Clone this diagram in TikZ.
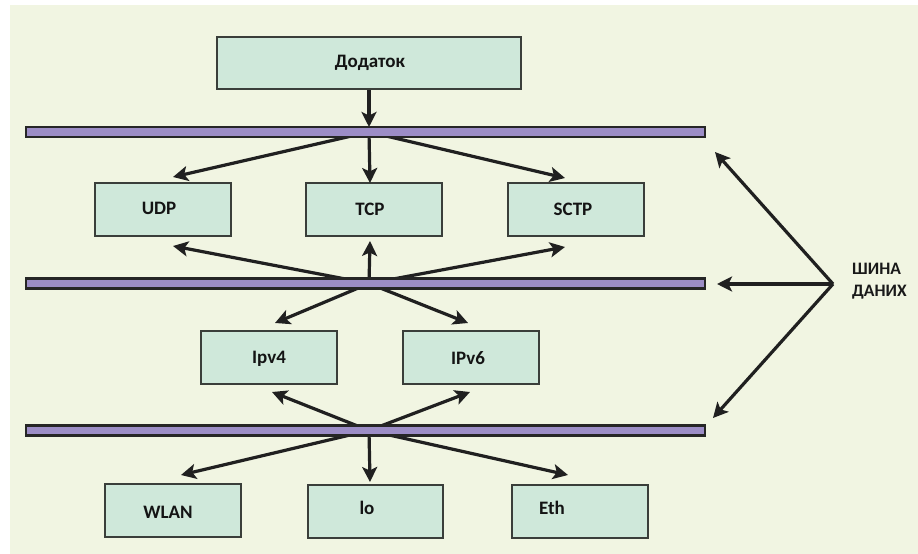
\documentclass[tikz,border=0pt]{standalone}
\usepackage{fontspec}
\setmainfont{Carlito}
\usetikzlibrary{arrows.meta,calc}
\definecolor{bgc}{HTML}{F1F5E2}
\definecolor{boxfill}{HTML}{CFE8DA}
\definecolor{boxline}{HTML}{3A3E3A}
\definecolor{barfill}{HTML}{9C8DC6}
\definecolor{barline}{HTML}{262626}
\definecolor{arrc}{HTML}{202020}
\tikzset{
  box/.style={draw=boxline, fill=boxfill, line width=2.2bp, minimum width=136bp, minimum height=53bp, inner sep=0pt},
  bus/.style={draw=barline, fill=barfill, line width=2.8bp, minimum width=679bp, minimum height=10bp, inner sep=0pt},
  lbl/.style={font=\fontsize{19bp}{22bp}\selectfont\bfseries, text=black!92, inner sep=0pt},
  side/.style={font=\fontsize{17.5bp}{22bp}\selectfont\bfseries, text=black!90, inner sep=0pt, align=left},
  arr/.style={draw=arrc, line width=3.2bp, -{Stealth[length=15bp,width=15bp,inset=3.5bp]}},
}
\begin{document}
\begin{tikzpicture}[x=1bp,y=-1bp]
\useasboundingbox (0,0) rectangle (918,554);
\fill[white] (0,0) rectangle (918,554);
\fill[bgc] (10,5) rectangle (918,554);

% boxes
\node[box, minimum width=304bp, minimum height=52bp] (app) at (369,63) {};
\node[box] (udp) at (163,209.5) {};
\node[box] (tcp) at (374,209.5) {};
\node[box] (sctp) at (576,209.5) {};
\node[box] (ipv4) at (269,357.5) {};
\node[box] (ipv6) at (471,357.5) {};
\node[box] (wlan) at (173,510.5) {};
\node[box, minimum width=135bp] (io) at (375.5,511.5) {};
\node[box] (eth) at (580,511.5) {};

% labels
\node[lbl] (tapp) at (370,63) {Додаток};
\node[lbl] (tudp) at (159,208.5) {UDP};
\node[lbl] (ttcp) at (370,209.5) {TCP};
\node[lbl] (tsctp) at (573,209.5) {SCTP};
\node[lbl] (tipv4) at (269,359) {Ipv4};
\node[lbl] (tipv6) at (468,358) {IPv6};
\node[lbl] (twlan) at (168,512) {WLAN};
\node[lbl] (tio) at (367,508) {lo};
\node[lbl] (teth) at (552,508) {Eth};

% bus centres and arrow tips
\coordinate (c1) at (369,132);
\coordinate (c2) at (369,283.5);
\coordinate (c3) at (369,430.5);
\coordinate (c1top) at (369,127);
\coordinate (hub) at (833,284);

\coordinate (t-udp-a) at (173,177);
\coordinate (t-tcp-a) at (370,183);
\coordinate (t-sctp-a) at (565,178);
\coordinate (t-udp-b) at (173,246);
\coordinate (t-tcp-b) at (370,241);
\coordinate (t-sctp-b) at (565,247);
\coordinate (t-ipv4-a) at (275,323);
\coordinate (t-ipv6-a) at (468,323);
\coordinate (t-ipv4-b) at (272,392);
\coordinate (t-ipv6-b) at (470,392);
\coordinate (t-wlan) at (181,475);
\coordinate (t-io) at (370,482);
\coordinate (t-eth) at (568,475);
\coordinate (t-bus1) at (715,152);
\coordinate (t-bus2) at (717,284);
\coordinate (t-bus3) at (713,418);

% arrows
\draw[arr] (app.south) -- (c1top);
\draw[arr] (c1) -- (t-udp-a);
\draw[arr] (c1) -- (t-tcp-a);
\draw[arr] (c1) -- (t-sctp-a);
\draw[arr] (c2) -- (t-udp-b);
\draw[arr] (c2) -- (t-tcp-b);
\draw[arr] (c2) -- (t-sctp-b);
\draw[arr] (c2) -- (t-ipv4-a);
\draw[arr] (c2) -- (t-ipv6-a);
\draw[arr] (c3) -- (t-ipv4-b);
\draw[arr] (c3) -- (t-ipv6-b);
\draw[arr] (c3) -- (t-wlan);
\draw[arr] (c3) -- (t-io);
\draw[arr] (c3) -- (t-eth);
\draw[arr] (hub) -- (t-bus1);
\draw[arr] (hub) -- (t-bus2);
\draw[arr] (hub) -- (t-bus3);

% buses on top
\node[bus] (bus1) at (365.5,132) {};
\node[bus] (bus2) at (365.5,283.5) {};
\node[bus] (bus3) at (365.5,430.5) {};

\node[side, anchor=west] (bl) at (852,281) {ШИНА\\ДАНИХ};
\end{tikzpicture}
\end{document}
